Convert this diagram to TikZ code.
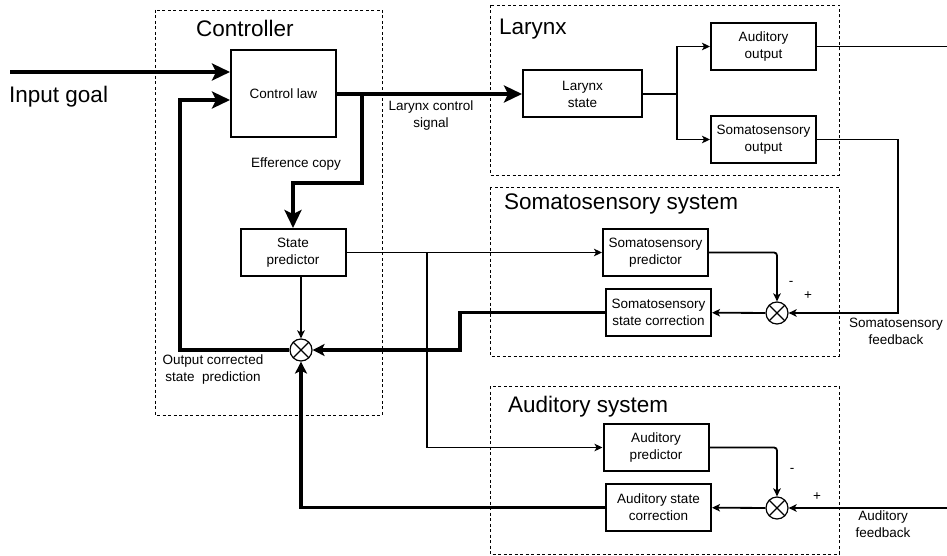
\documentclass[tikz,border=0pt]{standalone}
\usepackage{fontspec}
\setmainfont{Liberation Sans}
\usetikzlibrary{arrows.meta,positioning,calc}

\begin{document}
\begin{tikzpicture}[x=1pt, y=-1pt, font=\fontsize{13.5}{17}\selectfont,
    blk/.style={rectangle, draw, line width=2pt, align=center,
      minimum width=105pt, minimum height=47pt, inner sep=1pt},
    grp/.style={draw, line width=0.9pt, dash pattern=on 3pt off 2.5pt},
    ttl/.style={anchor=base west, inner sep=0pt,
      font=\fontsize{22.5}{26}\selectfont},
    lbl/.style={align=center, inner sep=0pt},
    sum/.style={circle, draw, line width=1.2pt, minimum size=22pt,
      inner sep=0pt, path picture={\draw[line width=1.2pt]
        (path picture bounding box.north west) --
        (path picture bounding box.south east)
        (path picture bounding box.north east) --
        (path picture bounding box.south west);}},
    ln/.style={line width=1.8pt},
    fl/.style={ln, -{Stealth[length=8pt, width=7.5pt, inset=2pt]}},
    flm/.style={line width=3.2pt, -{Stealth[length=12pt, width=12pt, inset=3pt]}},
    flk/.style={line width=4.2pt, -{Stealth[length=18pt, width=17pt, inset=4pt]}}]
    \useasboundingbox (0,0) rectangle (947,556);
    % dashed groups
    \draw[grp] (155,10) rectangle (382,415);
    \draw[grp] (490,5) rectangle (839,175);
    \draw[grp] (490,187) rectangle (839,356);
    \draw[grp] (490,386) rectangle (839,554);
    \node[ttl] (ttlctrl) at (196,37) {Controller};
    \node[ttl] (ttllar) at (499,35) {Larynx};
    \node[ttl] (ttlsom) at (504,209) {Somatosensory system};
    \node[ttl] (ttlaud) at (508,412) {Auditory system};
    \node[ttl] (goaltxt) at (9,103) {Input goal};
    % blocks
    \node[blk, minimum height=87pt] (ctrl) at (283.5,94) {Control law};
    \node[blk] (statepred) at (293,252.5) {State\\predictor};
    \node[blk, minimum width=119pt] (larstate) at (582.5,94) {Larynx\\state};
    \node[blk] (audout) at (763.5,46.5) {Auditory\\output};
    \node[blk] (somout) at (763.5,139.5) {Somatosensory\\output};
    \node[blk] (sompred) at (655.5,252.5) {Somatosensory\\predictor};
    \node[blk] (somcorr) at (658.5,312.5) {Somatosensory\\state correction};
    \node[blk] (audpred) at (656,447.5) {Auditory\\predictor};
    \node[blk] (audcorr) at (658.5,507.5) {Auditory state\\correction};
    \node[sum] (sumctrl) at (301,350) {};
    \node[sum] (sumsom) at (777,313) {};
    \node[sum] (sumaud) at (777,508) {};
    \coordinate (goal) at (10,72);
    \coordinate (effsplit) at (362,94);
    \coordinate (larsplit) at (677,94);
    \coordinate (predsplit) at (427,252.5);
    \coordinate (audexit) at (947,46.5);
    \coordinate (audfb) at (947,508);
    % connectors
    \draw[flk] (goal) -- (ctrl.west |- goal);
    \draw[flk] (sumctrl.west) -| (180,100) -- (ctrl.west |- 0,100);
    \draw[flk] (ctrl) -- (larstate);
    \draw[flk] (effsplit) -- (362,183) -| (statepred.north);
    \draw[fl] (statepred) -- (sompred);
    \draw[fl] (predsplit) |- (audpred);
    \draw[fl] (statepred.south -| sumctrl) -- (sumctrl);
    \draw[ln] (larstate) -- (larsplit);
    \draw[fl] (larsplit) |- (audout);
    \draw[fl] (larsplit) |- (somout);
    \draw[ln] (audout) -- (audexit);
    \draw[fl] (somout) -| (898,313) -- (sumsom);
    \draw[fl, rounded corners=3pt] (sompred) -| (sumsom);
    \draw[fl] (sumsom) -- (somcorr);
    \draw[flm] (somcorr) -| (460,350) -- (sumctrl);
    \draw[fl, rounded corners=3pt] (audpred) -| (sumaud);
    \draw[fl] (audfb) -- (sumaud);
    \draw[fl] (sumaud) -- (audcorr);
    \draw[flm] (audcorr) -| (sumctrl);
    % labels
    \node[lbl] (efftxt) at (296,164) {Efference copy};
    \node[lbl] (lartxt) at (431,116) {Larynx control\\signal};
    \node[lbl] (outtxt) at (213,370) {Output corrected\\state~ prediction};
    \node[lbl] (somfbtxt) at (896,331) {Somatosensory\\feedback};
    \node[lbl] (audfbtxt) at (883,524) {Auditory\\feedback};
    \node[lbl] (sommin) at (791,283) {-};
    \node[lbl] (somplus) at (808,296) {+};
    \node[lbl] (audmin) at (792,470) {-};
    \node[lbl] (audplus) at (817,497) {+};
  \end{tikzpicture}
\end{document}
